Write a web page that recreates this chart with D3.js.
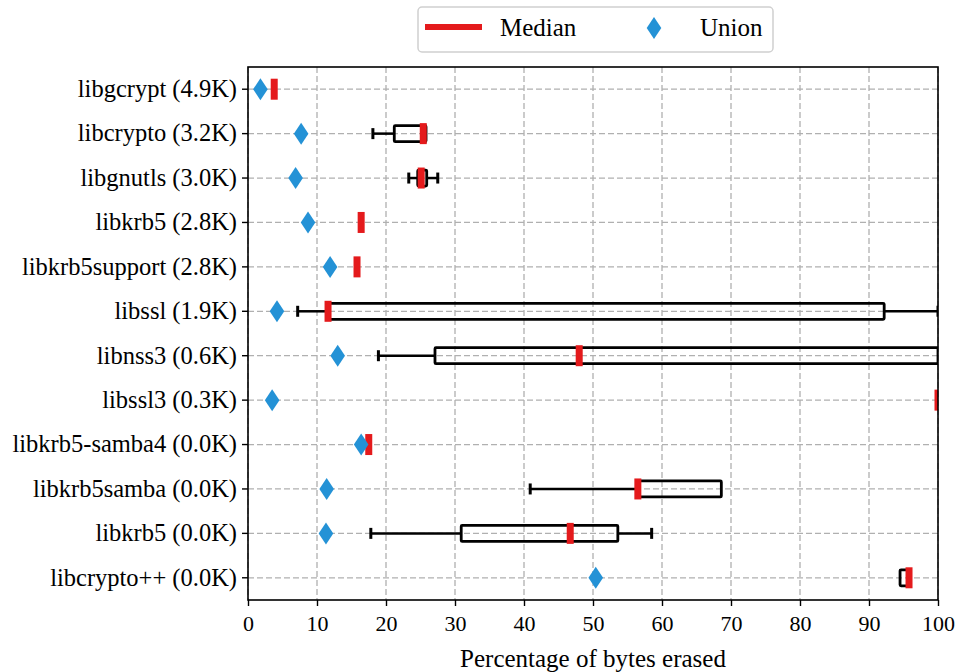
<!DOCTYPE html>
<html>
<head>
<meta charset="utf-8">
<script src="https://cdn.jsdelivr.net/npm/d3@7"></script>
<style>
  body { margin: 0; background: #fff; }
  text { font-family: "Liberation Serif", "DejaVu Serif", serif; fill: #000; }
</style>
</head>
<body>
<svg id="chart" width="957" height="672"></svg>
<script>
// Libraries, top to bottom
const libraries = [
  'libgcrypt (4.9K)', 'libcrypto (3.2K)', 'libgnutls (3.0K)', 'libkrb5 (2.8K)',
  'libkrb5support (2.8K)', 'libssl (1.9K)', 'libnss3 (0.6K)', 'libssl3 (0.3K)',
  'libkrb5-samba4 (0.0K)', 'libkrb5samba (0.0K)', 'libkrb5 (0.0K)', 'libcrypto++ (0.0K)'
];
// Box stats per library (percent of bytes erased)
const whiskerLow  = [3.8, 18.1, 23.3, 16.4, 15.8, 7.2, 18.9, 100, 17.5, 40.9, 17.8, 94.5];
const q1          = [3.8, 21.2, 24.6, 16.4, 15.8, 11.6, 27.1, 100, 17.5, 56.5, 30.9, 94.5];
const median      = [3.8, 25.4, 25.1, 16.4, 15.8, 11.6, 48.0, 100, 17.5, 56.5, 46.7, 95.8];
const q3          = [3.8, 25.8, 25.9, 16.4, 15.8, 92.2, 100, 100, 17.5, 68.6, 53.6, 95.8];
const whiskerHigh = [3.8, 25.8, 27.5, 16.4, 15.8, 100, 100, 100, 17.5, 68.6, 58.5, 95.8];
const union       = [1.8, 7.7, 6.9, 8.7, 11.9, 4.2, 13.0, 3.5, 16.4, 11.4, 11.3, 50.4];
const xTicks = [0, 10, 20, 30, 40, 50, 60, 70, 80, 90, 100];

const margin = { left: 248, right: 19, top: 67, bottom: 72 };
const width = 957 - margin.left - margin.right;
const height = 672 - margin.top - margin.bottom;

const rows = libraries.map((name, i) => ({
  name, lo: whiskerLow[i], q1: q1[i], med: median[i], q3: q3[i], hi: whiskerHigh[i], union: union[i]
}));

const svg = d3.select('#chart')
  .append('g')
  .attr('transform', `translate(${margin.left},${margin.top})`);

const x = d3.scaleLinear().domain([0, 100]).range([0, width]);
const y = d3.scaleBand().domain(libraries).range([0, height]).paddingInner(0).paddingOuter(0);
const cy = d => y(d) + y.bandwidth() / 2;

// clip for marks at the plot edge
svg.append('clipPath').attr('id', 'plot-clip')
  .append('rect').attr('width', width).attr('height', height);

// Grid
const grid = svg.append('g').attr('class', 'grid');
grid.selectAll('.vgrid').data(xTicks).enter().append('line')
  .attr('x1', d => x(d)).attr('x2', d => x(d))
  .attr('y1', 0).attr('y2', height)
  .attr('stroke', '#b0b0b0').attr('stroke-width', 1.3).attr('stroke-dasharray', '6,3');
grid.selectAll('.hgrid').data(libraries).enter().append('line')
  .attr('x1', 0).attr('x2', width)
  .attr('y1', d => cy(d)).attr('y2', d => cy(d))
  .attr('stroke', '#b0b0b0').attr('stroke-width', 1.3).attr('stroke-dasharray', '6,3');

const marks = svg.append('g').attr('clip-path', 'url(#plot-clip)');
const boxH = 16, capH = 11;

const g = marks.selectAll('.row').data(rows).enter().append('g')
  .attr('transform', d => `translate(0,${cy(d.name)})`);

// whiskers
g.filter(d => d.lo < d.q1).append('line')
  .attr('x1', d => x(d.lo)).attr('x2', d => x(d.q1))
  .attr('stroke', '#000').attr('stroke-width', 2.5);
g.filter(d => d.hi > d.q3).append('line')
  .attr('x1', d => x(d.q3)).attr('x2', d => x(d.hi))
  .attr('stroke', '#000').attr('stroke-width', 2.5);
// caps
g.filter(d => d.lo < d.q1).append('line')
  .attr('x1', d => x(d.lo)).attr('x2', d => x(d.lo))
  .attr('y1', -capH / 2).attr('y2', capH / 2)
  .attr('stroke', '#000').attr('stroke-width', 3);
g.filter(d => d.hi > d.q3).append('line')
  .attr('x1', d => x(d.hi)).attr('x2', d => x(d.hi))
  .attr('y1', -capH / 2).attr('y2', capH / 2)
  .attr('stroke', '#000').attr('stroke-width', 3);
// boxes
g.filter(d => d.q3 > d.q1).append('rect')
  .attr('x', d => x(d.q1)).attr('width', d => x(d.q3) - x(d.q1))
  .attr('y', -boxH / 2).attr('height', boxH)
  .attr('fill', 'none').attr('stroke', '#000').attr('stroke-width', 2.8)
  .attr('rx', 1);
// median
g.append('rect')
  .attr('x', d => x(d.med) - 3.5).attr('width', 7)
  .attr('y', -10.5).attr('height', 21)
  .attr('fill', '#e41a1c');
// union diamond
const diamond = 'M0,-11L7.3,0L0,11L-7.3,0Z';
g.append('path')
  .attr('d', diamond)
  .attr('transform', d => `translate(${x(d.union)},0)`)
  .attr('fill', '#2492d6');

// Axes
const xAxis = svg.append('g')
  .attr('transform', `translate(0,${height})`)
  .call(d3.axisBottom(x).tickValues(xTicks).tickSize(6).tickPadding(9));
xAxis.selectAll('text').attr('font-size', '22px')
  .style('font-family', '"Liberation Serif", serif');
xAxis.select('.domain').remove();

const yAxis = svg.append('g')
  .call(d3.axisLeft(y).tickSize(6).tickPadding(5));
yAxis.selectAll('text').attr('font-size', '24.5px')
  .style('font-family', '"Liberation Serif", serif');
yAxis.select('.domain').remove();
svg.selectAll('.tick line').attr('stroke', '#000').attr('stroke-width', 1.4);

// Frame
svg.append('rect')
  .attr('width', width).attr('height', height)
  .attr('fill', 'none').attr('stroke', '#000').attr('stroke-width', 1.6);

// X label
svg.append('text')
  .attr('x', width / 2).attr('y', height + 67)
  .attr('text-anchor', 'middle')
  .attr('font-size', '25px')
  .text('Percentage of bytes erased');

// Legend
const legend = d3.select('#chart').append('g').attr('transform', 'translate(418,7)');
legend.append('rect')
  .attr('width', 355).attr('height', 45).attr('rx', 4)
  .attr('fill', '#fff').attr('stroke', '#d0d0d0').attr('stroke-width', 1.5);
legend.append('line')
  .attr('x1', 7).attr('x2', 64).attr('y1', 20).attr('y2', 20)
  .attr('stroke', '#e41a1c').attr('stroke-width', 6);
legend.append('text')
  .attr('x', 82).attr('y', 29).attr('font-size', '25px').text('Median');
legend.append('path')
  .attr('d', diamond)
  .attr('transform', 'translate(236,21)')
  .attr('fill', '#2492d6');
legend.append('text')
  .attr('x', 282).attr('y', 29).attr('font-size', '25px').text('Union');
</script>
</body>
</html>
